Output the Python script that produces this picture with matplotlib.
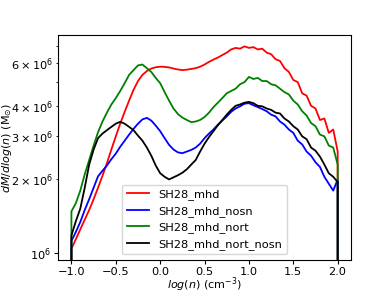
import numpy as np
import matplotlib
matplotlib.use('Agg')
import matplotlib.pyplot as plt

plt.rcParams['font.size'] = 8.2
plt.rcParams['xtick.major.size'] = 3
plt.rcParams['ytick.major.size'] = 3
plt.rcParams['ytick.minor.size'] = 1.8
plt.rcParams['xtick.major.pad'] = 2
plt.rcParams['ytick.major.pad'] = 2
plt.rcParams['ytick.minor.pad'] = 2

# bin centres in log(n), step 0.05 from -1 to 2
logn = np.round(np.arange(-1.0, 2.0001, 0.05), 2)

# dM/dlog(n) in units of 1e6 Msun
mhd = [1.04, 1.14, 1.25, 1.37, 1.50, 1.66, 1.85, 2.07, 2.33, 2.65,
       3.00, 3.38, 3.78, 4.20, 4.65, 5.05, 5.35, 5.55, 5.68, 5.75,
       5.78, 5.77, 5.74, 5.68, 5.63, 5.60, 5.62, 5.66, 5.70, 5.78,
       5.90, 6.05, 6.18, 6.30, 6.45, 6.60, 6.80, 6.90, 6.85, 7.00,
       6.90, 6.95, 6.80, 6.85, 6.60, 6.50, 6.20, 6.10, 5.70, 5.50,
       5.10, 5.00, 4.50, 4.40, 4.00, 3.90, 3.50, 3.55, 3.10, 3.20,
       2.60]
mhd_nosn = [1.12, 1.22, 1.34, 1.50, 1.66, 1.85, 2.06, 2.17, 2.28, 2.42,
            2.55, 2.72, 2.88, 3.05, 3.22, 3.38, 3.52, 3.57, 3.48, 3.32,
            3.15, 2.95, 2.77, 2.65, 2.58, 2.56, 2.60, 2.64, 2.70, 2.80,
            2.95, 3.08, 3.20, 3.35, 3.48, 3.62, 3.78, 3.90, 3.98, 4.08,
            4.10, 4.02, 3.95, 3.88, 3.80, 3.68, 3.62, 3.45, 3.35, 3.20,
            3.10, 2.88, 2.78, 2.60, 2.50, 2.35, 2.25, 2.05, 1.92, 1.80,
            2.00]
mhd_nort = [1.48, 1.60, 1.80, 2.10, 2.40, 2.75, 3.12, 3.45, 3.75, 4.05,
            4.30, 4.60, 4.95, 5.35, 5.60, 5.85, 5.90, 5.70, 5.50, 5.20,
            4.95, 4.55, 4.20, 3.90, 3.70, 3.58, 3.50, 3.43, 3.45, 3.50,
            3.60, 3.75, 3.95, 4.12, 4.30, 4.50, 4.60, 4.70, 4.90, 5.00,
            5.25, 5.15, 5.20, 5.05, 5.05, 4.90, 4.85, 4.70, 4.55, 4.45,
            4.20, 4.05, 3.80, 3.65, 3.40, 3.30, 3.05, 3.00, 2.75, 2.70,
            2.30]
mhd_nort_nosn = [1.18, 1.35, 1.52, 1.85, 2.30, 2.65, 2.95, 3.08, 3.18, 3.28,
                 3.38, 3.44, 3.38, 3.28, 3.18, 3.02, 2.88, 2.70, 2.50, 2.28,
                 2.12, 2.05, 2.00, 2.04, 2.08, 2.13, 2.20, 2.30, 2.40, 2.60,
                 2.80, 2.98, 3.15, 3.33, 3.50, 3.68, 3.85, 4.00, 4.05, 4.12,
                 4.15, 4.10, 4.00, 3.98, 3.90, 3.85, 3.75, 3.72, 3.55, 3.45,
                 3.30, 3.20, 3.00, 2.92, 2.70, 2.62, 2.48, 2.30, 2.12, 2.05,
                 1.95]

runs = ['SH28_mhd', 'SH28_mhd_nosn', 'SH28_mhd_nort', 'SH28_mhd_nort_nosn']
colors = ['red', 'blue', 'green', 'black']
series = [mhd, mhd_nosn, mhd_nort, mhd_nort_nosn]

# histogram edges drop to (near) zero outside the range
empty = 0.1

fig = plt.figure(figsize=(3.9, 2.93), dpi=100)
ax = fig.add_axes([0.149, 0.112, 0.751, 0.769])

for name, c, vals in zip(runs, colors, series):
    xx = np.concatenate([[logn[0]], logn, [logn[-1]]])
    yy = np.concatenate([[empty], vals, [empty]]) * 1e6
    ax.plot(xx, yy, color=c, lw=1.3, label=name)

ax.set_yscale('log')
ax.set_xlim(-1.15, 2.15)
ax.set_ylim(0.935e6, 7.8e6)
ax.set_xlabel(r'$log(n)$ (cm$^{-3}$)', labelpad=-1, fontsize=8)
ax.set_ylabel(r'$dM/dlog(n)$ (M$_{\odot}$)', labelpad=-2.5, fontsize=8)
ax.legend(loc='lower center')

plt.savefig('out.png', dpi=100)
